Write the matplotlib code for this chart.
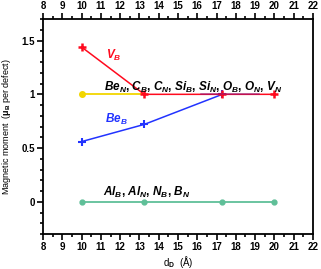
import numpy as np
import matplotlib
matplotlib.use("Agg")
import matplotlib.pyplot as plt

plt.rcParams['font.family'] = 'Liberation Sans'
plt.rcParams['font.weight'] = 'bold'
plt.rcParams['mathtext.fontset'] = 'custom'
plt.rcParams['mathtext.rm'] = 'Liberation Sans:italic:bold'
plt.rcParams['mathtext.it'] = 'Liberation Sans:italic:bold'
plt.rcParams['mathtext.sf'] = 'Liberation Sans:bold'

# defect distance (A) and magnetic moments
d = [10.0, 13.25, 17.3, 20.0]
v_b = [1.44, 1.0, 1.0, 1.0]
be_b = [0.56, 0.72, 1.0]
be_n = [1.0, 1.0]
others = [1.0, 1.0]
others_x = [16.2, 19.2]
al = [0.0, 0.0, 0.0, 0.0]

fig = plt.figure(figsize=(3.21, 2.69), dpi=100)
ax = fig.add_axes([0.134, 0.130, 0.841, 0.799])

ax.plot(d[:2], be_n, color='#f2d600', lw=1.3, marker='o', ms=4, markevery=[0], zorder=2)
ax.plot(d, al, color='#5fbf98', lw=1.3, marker='o', ms=3.5, zorder=2)
ax.plot(d[:3], be_b, color='#2233ff', lw=1.1, marker='+', ms=6, mew=1.5, zorder=3)
ax.plot(d, v_b, color='#ff0a1e', lw=1.1, marker='+', ms=6, mew=1.8, zorder=3)
ax.plot(others_x, others, color='#7a1a8a', lw=1.1, alpha=0.6, zorder=4)

ax.text(11.25, 1.36, r'$V_B$', color='#ff0a1e', fontsize=8.5, va='center')
ax.text(11.15, 1.065, r'$Be_N$, $C_B$, $C_N$, $Si_B$, $Si_N$, $O_B$, $O_N$, $V_N$',
        color='black', fontsize=8.5, va='center')
ax.text(11.2, 0.765, r'$Be_B$', color='#2233ff', fontsize=8.5, va='center')
ax.text(11.1, 0.09, r'$Al_B$, $Al_N$, $N_B$, $B_N$', color='black', fontsize=8.5, va='center')

ax.set_xlim(8, 22)
ax.set_ylim(-0.3, 1.7)
ax.set_xticks(np.arange(8, 23, 1))
ax.set_xticks(np.arange(8, 22, 0.5), minor=True)
ax.set_yticks([0, 0.5, 1, 1.5])
ax.set_yticklabels(['0', '0.5', '1', '1.5'])
ax.set_yticks(np.arange(-0.3, 1.71, 0.1), minor=True)
ax.tick_params(which='both', direction='out', top=True, labeltop=True, right=False,
               labelsize=7, width=1.2, pad=2)
ax.tick_params(which='major', length=4)
ax.tick_params(which='minor', length=2.5)
for s in ax.spines.values():
    s.set_linewidth(1.3)

ax.set_xlabel(r'd$_\mathsf{D}$  (Å)', fontsize=7, labelpad=1)
ax.set_ylabel(r'Magnetic moment  ($\mathsf{\mu}_\mathsf{B}$ per defect)', fontsize=6.5, labelpad=6)

fig.savefig('out.png', dpi=100)
